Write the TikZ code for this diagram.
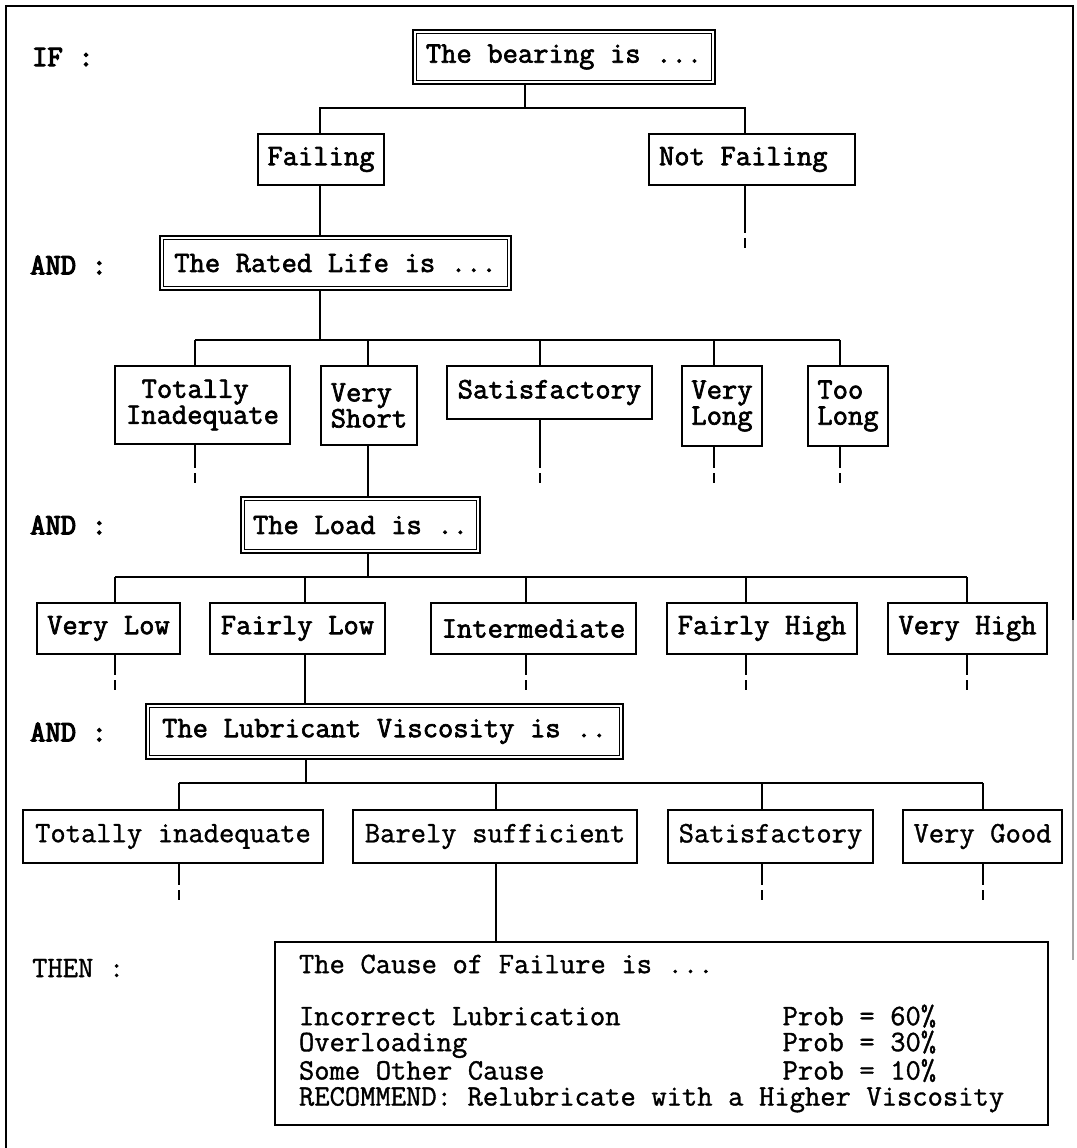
\documentclass[tikz,border=0pt]{standalone}
\usepackage{fontspec}
% typewriter faces in three weights
\newfontfamily\lightmono{Latin Modern Mono}[FakeBold=1.2]
\newfontfamily\heavymono{Latin Modern Mono}[FakeBold=2.2]
\newfontfamily\boldmono{Latin Modern Mono}[FakeBold=4]
% fixed one-character word space
\newcommand\monospace{\fontdimen2\font=15.6pt\fontdimen3\font=0pt\fontdimen4\font=0pt}
\newcommand\tsize{\fontsize{29.7}{26}}
\begin{document}
\begin{tikzpicture}[x=1pt,y=-1pt,
  wire/.style={line width=1.5pt},
  frame/.style={line width=1.8pt},
  box/.style={draw, line width=1.4pt, inner sep=0pt, align=left,
    font=\tsize\heavymono\monospace,
    execute at begin node={\spaceskip=15.6pt\relax\xspaceskip=15.6pt\relax}},
  lightbox/.style={box, font=\tsize\lightmono\monospace},
  rule/.style={anchor=west, inner sep=0pt, font=\tsize\boldmono\monospace},
  plainrule/.style={anchor=west, inner sep=0pt, font=\tsize\lightmono\monospace},
  inner/.style={line width=1.2pt}]
\useasboundingbox (0,0) rectangle (1076,1148);

% page frame (open at the bottom, right edge fading out)
\draw[frame] (6,1148) -- (6,6) -- (1073,6) -- (1073,620);
\draw[frame, black!35] (1073,620) -- (1073,960);

% rule keywords
\node[rule] (kif)   at (32,57)  {IF :};
\node[rule] (kand1) at (30,265) {AND :};
\node[rule] (kand2) at (30,525) {AND :};
\node[rule] (kand3) at (30,732) {AND :};
\node[plainrule] (kthen) at (32,968) {THEN :};

% ---------- level 1 ----------
\node[box, minimum width=302pt, minimum height=54pt] (bear) at (564,57) {The bearing is ...};
\node[box, minimum width=126pt, minimum height=51pt] (fail) at (321,159.5) {Failing};
\node[box, minimum width=206pt, minimum height=51pt, text width=186pt] (nf) at (752,159.5) {Not Failing};

% ---------- level 2 ----------
\node[box, minimum width=351pt, minimum height=54pt] (rated) at (335.5,263) {The Rated Life is ...};
\node[box, minimum width=175pt, minimum height=78pt] (ti) at (202.5,405) {\ Totally\\Inadequate};
\node[box, minimum width=96pt,  minimum height=79pt] (vs) at (369,405.5) {Very\\Short};
\node[box, minimum width=205pt, minimum height=53pt] (sat1) at (549.5,392.5) {Satisfactory};
\node[box, minimum width=80pt,  minimum height=80pt] (vl) at (722,406) {Very\\Long};
\node[box, minimum width=80pt,  minimum height=80pt] (tl) at (848,406) {Too\\Long};

% ---------- level 3 ----------
\node[box, minimum width=239pt, minimum height=56pt] (load) at (360.5,525) {The Load is ..};
\node[box, minimum width=143pt, minimum height=51pt] (vlow) at (108.5,628.5) {Very Low};
\node[box, minimum width=175pt, minimum height=51pt] (flow) at (297.5,628.5) {Fairly Low};
\node[box, minimum width=205pt, minimum height=51pt] (inter) at (533.5,628.5) {Intermediate};
\node[box, minimum width=190pt, minimum height=51pt] (fhigh) at (762,628.5) {Fairly High};
\node[box, minimum width=159pt, minimum height=51pt] (vhigh) at (967.5,628.5) {Very High};

% ---------- level 4 ----------
\node[box, minimum width=477pt, minimum height=55pt] (lub) at (384.5,731.5) {The Lubricant Viscosity is ..};
\node[lightbox, minimum width=300pt, minimum height=53pt] (ti2) at (173,836.5) {Totally inadequate};
\node[lightbox, minimum width=284pt, minimum height=53pt] (bs) at (495,836.5) {Barely sufficient};
\node[lightbox, minimum width=205pt, minimum height=53pt] (sat2) at (770.5,836.5) {Satisfactory};
\node[lightbox, minimum width=159pt, minimum height=53pt] (vg) at (982.5,836.5) {Very Good};

% ---------- conclusion ----------
\node[lightbox, minimum width=773pt, minimum height=183pt, text width=725pt] (res) at (661.5,1033.5)
  {The Cause of Failure is ...\\[26pt]
   \makebox[483.6pt][l]{Incorrect Lubrication}Prob = 60\%\\
   \makebox[483.6pt][l]{Overloading}Prob = 30\%\\
   \makebox[483.6pt][l]{Some Other Cause}Prob = 10\%\\
   RECOMMEND: Relubricate with a Higher Viscosity};

% inner lines of the question boxes
\foreach \q in {bear,rated,load,lub}
  \draw[inner] ([shift={(4pt,-4pt)}]\q.north west) rectangle ([shift={(-4pt,4pt)}]\q.south east);

% ---------- connectors, level 1 ----------
\coordinate (j1)  at (525,108);
\coordinate (t-fail) at (320,108);
\coordinate (t-nf)   at (745,108);
\draw[wire] (bear.south -| j1) -- (j1);
\draw[wire] (fail.north -| t-fail) |- (t-nf) -- (nf.north -| t-nf);
\draw[wire] (fail.south -| t-fail) -- (rated.north -| t-fail);

% ---------- connectors, level 2 ----------
\coordinate (j2) at (320,340);
\coordinate (t-ti)   at (195,340);
\coordinate (t-vs)   at (368,340);
\coordinate (t-sat1) at (540,340);
\coordinate (t-vl)   at (714,340);
\coordinate (t-tl)   at (840,340);
\draw[wire] (rated.south -| j2) -- (j2);
\draw[wire] (t-ti) -- (t-tl);
\foreach \n in {ti,vs,sat1,vl,tl}
  \draw[wire] (t-\n) -- (t-\n |- \n.north);
\draw[wire] (vs.south -| t-vs) -- (load.north -| t-vs);

% ---------- connectors, level 3 ----------
\coordinate (j3) at (368,577);
\coordinate (t-vlow)  at (115,577);
\coordinate (t-flow)  at (305,577);
\coordinate (t-inter) at (526,577);
\coordinate (t-fhigh) at (746,577);
\coordinate (t-vhigh) at (967,577);
\draw[wire] (load.south -| j3) -- (j3);
\draw[wire] (t-vlow) -- (t-vhigh);
\foreach \n in {vlow,flow,inter,fhigh,vhigh}
  \draw[wire] (t-\n) -- (t-\n |- \n.north);
\draw[wire] (flow.south -| t-flow) -- (lub.north -| t-flow);

% ---------- connectors, level 4 ----------
\coordinate (j4) at (306,783);
\coordinate (t-ti2)  at (179,783);
\coordinate (t-bs)   at (496,783);
\coordinate (t-sat2) at (762,783);
\coordinate (t-vg)   at (983,783);
\draw[wire] (lub.south -| j4) -- (j4);
\draw[wire] (t-ti2) -- (t-vg);
\foreach \n in {ti2,bs,sat2,vg}
  \draw[wire] (t-\n) -- (t-\n |- \n.north);
\draw[wire] (bs.south -| t-bs) -- (res.north -| t-bs);

% ---------- open branches (dashed tails) ----------
\foreach \n/\x/\y in {nf/745/248, ti/195/483, sat1/540/483, vl/714/483, tl/840/483,
                      vlow/115/690, inter/526/690, fhigh/746/690, vhigh/967/690,
                      ti2/179/900, sat2/762/900, vg/983/900}{
  \coordinate (e-\n) at (\x,\y);
  \draw[wire] (\n.south -| e-\n) -- ([yshift=15pt]e-\n);
  \draw[wire] ([yshift=10pt]e-\n) -- (e-\n);
}
\end{tikzpicture}
\end{document}
